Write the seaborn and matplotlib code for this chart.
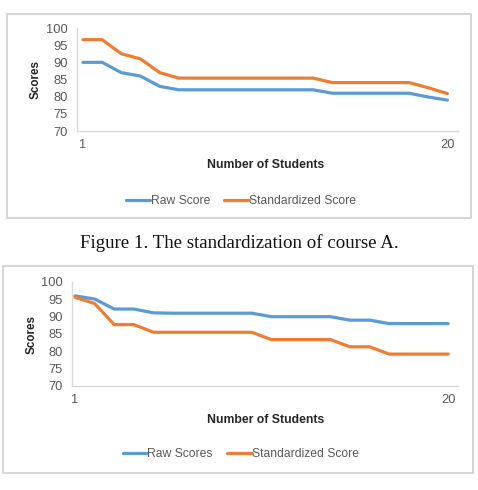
"""
Two Excel-style line charts: raw vs standardized scores for 20 students,
with the figure caption between them.
"""
import numpy as np
import pandas as pd
import matplotlib
matplotlib.use("Agg")
import matplotlib.pyplot as plt
from matplotlib.patches import Rectangle
import seaborn as sns

# data -------------------------------------------------------------
students = list(range(1, 21))

# top chart (course A)
a_raw = [90, 90, 87, 86, 83, 82, 82, 82, 82, 82, 82, 82, 82,
         81, 81, 81, 81, 81, 79.9, 79]
a_std = [96.6, 96.6, 92.5, 91, 87, 85.4, 85.4, 85.4, 85.4, 85.4, 85.4, 85.4, 85.4,
         84.1, 84.1, 84.1, 84.1, 84.1, 82.6, 80.9]

# bottom chart
b_raw = [96, 95.1, 92.2, 92.2, 91.1, 91, 91, 91, 91, 91,
         90, 90, 90, 90, 89, 89, 88, 88, 88, 88]
b_std = [95.6, 93.8, 87.7, 87.7, 85.5, 85.5, 85.5, 85.5, 85.5, 85.5,
         83.4, 83.4, 83.4, 83.4, 81.3, 81.3, 79.2, 79.2, 79.2, 79.2]

yticks = [70, 75, 80, 85, 90, 95, 100]
caption = "Figure 1. The standardization of course A."

BLUE = "#5B9BD5"
ORANGE = "#ED7D31"
GREY = "#595959"
LINE = "#D9D9D9"

sns.set_style("white")
plt.rcParams["font.family"] = ["Liberation Sans", "DejaVu Sans"]

W, H = 478, 490
fig = plt.figure(figsize=(W / 100, H / 100), dpi=100)


def px_axes(left, top, right, bottom):
    # pixel box -> figure coords
    return fig.add_axes([left / W, 1 - bottom / H, (right - left) / W, (bottom - top) / H])


def frame(left, top, right, bottom):
    fig.patches.append(Rectangle((left / W, 1 - bottom / H), (right - left) / W,
                                 (bottom - top) / H, transform=fig.transFigure,
                                 fill=False, edgecolor="#CFCFCF", lw=1.2))


def draw(ax, raw, std, raw_name, std_name, x0, x1, ylab_x, xlab_y, leg_y):
    df = pd.DataFrame({
        "student": students * 2,
        "score": raw + std,
        "series": [raw_name] * 20 + [std_name] * 20,
    })
    sns.lineplot(data=df, x="student", y="score", hue="series",
                 palette=[BLUE, ORANGE], lw=2.3, ax=ax, legend=False)
    for ln in ax.lines:
        ln.set_solid_joinstyle("round")
        ln.set_solid_capstyle("round")
    ax.set_xlim(x0, x1)
    ax.set_ylim(70, 100)
    ax.set_yticks(yticks)
    ax.set_xticks([1, 20])
    ax.tick_params(length=0, labelsize=9.3, colors=GREY)
    ax.tick_params(axis="y", pad=6.5)
    ax.tick_params(axis="x", pad=6)
    for s in ["top", "right"]:
        ax.spines[s].set_visible(False)
    for s in ["left", "bottom"]:
        ax.spines[s].set_color(LINE)
        ax.spines[s].set_linewidth(1)
    ax.set_xlabel("")
    ax.set_ylabel("Scores", fontsize=8.4, fontweight="bold", color="#262626")
    ax.yaxis.set_label_coords(ylab_x, 0.5)
    fig.text(266 / W, 1 - xlab_y / H, "Number of Students", ha="center", va="center",
             fontsize=8.8, fontweight="bold", color="#262626")
    handles = [plt.Line2D([], [], color=BLUE, lw=2.3),
               plt.Line2D([], [], color=ORANGE, lw=2.3)]
    fig.legend(handles, [raw_name, std_name], loc="center",
               bbox_to_anchor=(241 / W, 1 - leg_y / H), ncol=2, frameon=False,
               fontsize=8.7, handlelength=2.0, handletextpad=0.05, columnspacing=1.2,
               labelcolor=GREY)


# top chart
frame(7, 14, 471, 218)
ax1 = px_axes(77, 28, 458, 131)
draw(ax1, a_raw, a_std, "Raw Score", "Standardized Score", 0.69, 20.55,
     -0.094, 165, 201)

fig.text(0.5, 1 - 243 / H, caption, ha="center", va="center",
         fontsize=13.6, family="Liberation Serif", color="#111111")

# bottom chart
frame(3, 266, 473, 473)
ax2 = px_axes(72, 282, 458, 386)
draw(ax2, b_raw, b_std, "Raw Scores", "Standardized Score", 0.85, 20.5,
     -0.090, 420, 454)

fig.savefig("out.png", dpi=100)
plt.close(fig)
